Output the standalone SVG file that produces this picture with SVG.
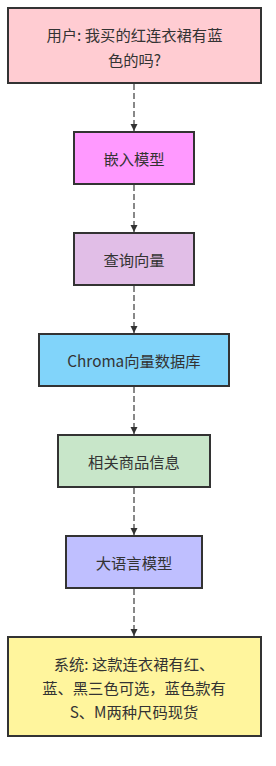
<svg xmlns="http://www.w3.org/2000/svg" width="276" height="766" viewBox="0 0 276 766">
<style>
.n rect{stroke:#333;stroke-width:2}
.n text{font-family:"Noto Sans CJK SC","Noto Sans",sans-serif;font-size:15.3px;fill:#333;text-anchor:middle;dominant-baseline:central}
.e{stroke:#888;stroke-width:2;stroke-dasharray:6 3;fill:none}
</style>
<defs>
<marker id="ah" markerWidth="8" markerHeight="8" refX="7" refY="4" orient="auto" markerUnits="userSpaceOnUse">
<path d="M0,0.5 L7,4 L0,7.5 Z" fill="#333"/>
</marker>
</defs>
<rect width="276" height="766" fill="#fff"/>
<g id="connectors">
<line class="e" x1="134" y1="84" x2="134" y2="131" marker-end="url(#ah)"/>
<line class="e" x1="134" y1="185" x2="134" y2="232" marker-end="url(#ah)"/>
<line class="e" x1="134" y1="286" x2="134" y2="333" marker-end="url(#ah)"/>
<line class="e" x1="134" y1="387" x2="134" y2="434" marker-end="url(#ah)"/>
<line class="e" x1="134" y1="488" x2="134" y2="535" marker-end="url(#ah)"/>
<line class="e" x1="134" y1="589" x2="134" y2="636" marker-end="url(#ah)"/>
</g>
<g id="user" class="n">
<rect x="8" y="8" width="253" height="75" fill="#ffccd2"/>
<text x="134.5" y="34">用户: 我买的红连衣裙有蓝</text>
<text x="134.5" y="59">色的吗?</text>
</g>
<g id="embed" class="n">
<rect x="74" y="132" width="120" height="52" fill="#ff99ff"/>
<text x="134" y="158">嵌入模型</text>
</g>
<g id="query" class="n">
<rect x="74" y="233" width="120" height="52" fill="#e1bee7"/>
<text x="134" y="259">查询向量</text>
</g>
<g id="chroma" class="n">
<rect x="39" y="334" width="190" height="52" fill="#81d4fa"/>
<text x="134" y="360">Chroma向量数据库</text>
</g>
<g id="info" class="n">
<rect x="58" y="435" width="152" height="52" fill="#c8e6c9"/>
<text x="134" y="461">相关商品信息</text>
</g>
<g id="llm" class="n">
<rect x="66" y="536" width="136" height="52" fill="#bfbfff"/>
<text x="134" y="562">大语言模型</text>
</g>
<g id="system" class="n">
<rect x="8" y="637" width="253" height="99" fill="#fff59d"/>
<text x="134" y="663">系统: 这款连衣裙有红、</text>
<text x="134" y="687">蓝、黑三色可选，蓝色款有</text>
<text x="134" y="711">S、M两种尺码现货</text>
</g>
</svg>
